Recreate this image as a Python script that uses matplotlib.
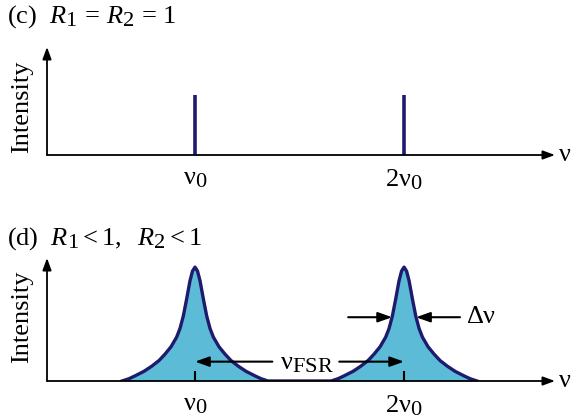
import numpy as np
import matplotlib
matplotlib.use("Agg")
import matplotlib.pyplot as plt
import matplotlib._mathtext as mt

plt.rcParams['font.family'] = 'Liberation Serif'
plt.rcParams['mathtext.fontset'] = 'custom'
plt.rcParams['mathtext.rm'] = 'Liberation Serif'
plt.rcParams['mathtext.it'] = 'Liberation Serif:italic'
mt.SHRINK_FACTOR = 0.85      # larger subscripts

# resonance positions (units of nu_0)
peaks = [1, 2]
peak_labels = [r'$\mathrm{\nu}_0$', r'$2\mathrm{\nu}_0$']
line_height = 1.0            # ideal mirrors: delta lines

# one side of the lossy-cavity line shape: offset from centre, relative height
offsets = [0, 0.012, 0.024, 0.040, 0.056, 0.072, 0.088, 0.115, 0.144,
           0.172, 0.207, 0.244, 0.287, 0.316, 0.349]
heights = [1.0, 0.965, 0.88, 0.72, 0.57, 0.46, 0.385, 0.30, 0.235,
           0.18, 0.13, 0.085, 0.045, 0.02, 0.0]
half_height = 0.56           # level where the linewidth is marked
tick_h = 0.09

navy = '#1e1a6e'
fill = '#5cbbd6'
W, H = 573, 419
xmin, xmax = 0.292, 2.722
fs = 19

fig = plt.figure(figsize=(W / 100, H / 100), dpi=100)


def box(x0, y_bottom, x1, y_top):
    return [x0 / W, 1 - y_bottom / H, (x1 - x0) / W, (y_bottom - y_top) / H]


def axis_arrows(ax, ytop):
    st = dict(arrowstyle='-|>,head_length=0.6,head_width=0.22', color='black',
              lw=1.3, mutation_scale=12, shrinkA=0, shrinkB=0)
    ax.annotate('', xy=(xmax, 0), xytext=(xmin, 0), arrowprops=st,
                annotation_clip=False)
    ax.annotate('', xy=(xmin, ytop), xytext=(xmin, 0), arrowprops=st,
                annotation_clip=False)
    ax.text(xmax + 0.012, 0, r'$\mathrm{\nu}$', fontsize=fs, va='center',
            ha='left', clip_on=False)


def setup(ax, ytop):
    ax.set_xlim(xmin, xmax)
    ax.set_ylim(0, ytop)
    ax.axis('off')
    axis_arrows(ax, ytop)
    for p, lab in zip(peaks, peak_labels):
        ax.annotate(lab, xy=(p, 0), xytext=(0, -9), textcoords='offset points',
                    ha='center', va='top', fontsize=fs)


# (c) R1 = R2 = 1
ax_c = fig.add_axes(box(47, 155, 555, 47))
setup(ax_c, 1.8)
ax_c.vlines(peaks, 0, line_height, color=navy, lw=2.6)
fig.text(7 / W, 1 - 17 / H, r'(c)  $R_1\, =\, R_2\, =\, 1$', fontsize=fs,
         va='center')
fig.text(22 / W, 1 - 107 / H, 'Intensity', rotation=90, fontsize=fs,
         ha='center', va='center')

# (d) R1 < 1, R2 < 1
ax_d = fig.add_axes(box(47, 381, 555, 258))
setup(ax_d, 1.08)
off = np.array(offsets)
hgt = np.array(heights)
xs, ys = [], []
for p in peaks:
    xs.append(np.concatenate([p - off[::-1], p + off[1:]]))
    ys.append(np.concatenate([hgt[::-1], hgt[1:]]))
xs = np.concatenate(xs)
ys = np.concatenate(ys)
ax_d.fill_between(xs, 0, ys, color=fill, lw=0)
ax_d.plot(xs, ys, color=navy, lw=2.4, solid_joinstyle='round')
ax_d.vlines(peaks, 0, tick_h, color='black', lw=1.5)

arr = dict(arrowstyle='-|>,head_length=0.7,head_width=0.25', color='black',
           lw=1.5, mutation_scale=12, shrinkA=0, shrinkB=0)
# free spectral range
ax_d.annotate('', xy=(peaks[0], 0.17), xytext=(1.37, 0.17), arrowprops=arr)
ax_d.annotate('', xy=(peaks[1], 0.17), xytext=(1.69, 0.17), arrowprops=arr)
ax_d.text(1.535, 0.15, r'$\mathrm{\nu_{FSR}}$', fontsize=fs, ha='center',
          va='center')
# linewidth
w = np.interp(half_height, hgt[::-1], off[::-1])
ax_d.annotate('', xy=(peaks[1] - w, half_height),
              xytext=(peaks[1] - w - 0.21, half_height), arrowprops=arr)
ax_d.annotate('', xy=(peaks[1] + w, half_height),
              xytext=(peaks[1] + w + 0.21, half_height), arrowprops=arr)
ax_d.text(peaks[1] + w + 0.24, half_height, r'$\mathrm{\Delta\nu}$',
          fontsize=fs, ha='left', va='center')
fig.text(7 / W, 1 - 239 / H, r'(d)  $R_1 < 1,\ \ R_2 < 1$', fontsize=fs,
         va='center')
fig.text(22 / W, 1 - 317 / H, 'Intensity', rotation=90, fontsize=fs,
         ha='center', va='center')

fig.savefig('out.png', dpi=100)
